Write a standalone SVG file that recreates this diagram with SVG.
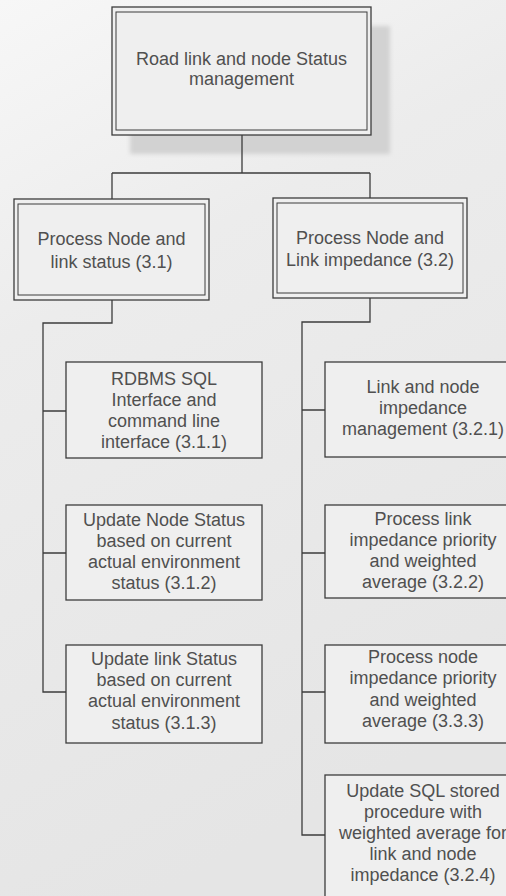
<svg xmlns="http://www.w3.org/2000/svg" width="506" height="896" viewBox="0 0 506 896">
  <defs>
    <linearGradient id="paper" x1="0" y1="0" x2="0.3" y2="1">
      <stop offset="0" stop-color="#f7f7f7"/>
      <stop offset="0.35" stop-color="#ececec"/>
      <stop offset="1" stop-color="#e5e5e5"/>
    </linearGradient>
    <filter id="soft" x="-10%" y="-10%" width="120%" height="120%">
      <feGaussianBlur stdDeviation="2"/>
    </filter>
    <style>
      .box { fill: #efefef; stroke: #3c3c3c; stroke-width: 1.3; }
      .inner { fill: none; stroke: #3c3c3c; stroke-width: 1; }
      .wire { fill: none; stroke: #3c3c3c; stroke-width: 1.3; }
      text { font-family: "Liberation Sans", Arial, sans-serif; font-size: 18px; fill: #505050; text-anchor: middle; }
    </style>
  </defs>

  <!-- paper background -->
  <rect x="0" y="0" width="506" height="896" fill="url(#paper)"/>

  <!-- drop shadow under the root box -->
  <rect x="130" y="26" width="260" height="128" fill="#d2d2d2" filter="url(#soft)"/>

  <!-- connectors -->
  <g id="connectors">
    <path class="wire" d="M242 135 V173 M112 173 H370 M112 173 V199 M370 173 V198"/>
    <path class="wire" d="M112 300 V323 H43 V692 H66 M43 411 H66 M43 553 H66"/>
    <path class="wire" d="M370 298 V322 H302 V835 H325 M302 410 H325 M302 553 H325 M302 692 H325"/>
  </g>

  <!-- root -->
  <g id="node-root">
    <rect class="box" x="112" y="7" width="259" height="128"/>
    <rect class="inner" x="116" y="12" width="251" height="118"/>
    <text x="241.5" y="65">Road link and node Status</text>
    <text x="241.5" y="85">management</text>
  </g>

  <!-- level 2 -->
  <g id="node-3-1">
    <rect class="box" x="14" y="199" width="195" height="101"/>
    <rect class="inner" x="18" y="204" width="187" height="91"/>
    <text x="111.5" y="245">Process Node and</text>
    <text x="111.5" y="268">link status (3.1)</text>
  </g>
  <g id="node-3-2">
    <rect class="box" x="273" y="198" width="194" height="100"/>
    <rect class="inner" x="277" y="203" width="186" height="90"/>
    <text x="370" y="244">Process Node and</text>
    <text x="370" y="266">Link impedance (3.2)</text>
  </g>

  <!-- level 3, branch 3.1 -->
  <g id="node-3-1-1">
    <rect class="box" x="66" y="362" width="196" height="96"/>
    <text x="164" y="385">RDBMS SQL</text>
    <text x="164" y="406">Interface and</text>
    <text x="164" y="427">command line</text>
    <text x="164" y="448">interface (3.1.1)</text>
  </g>
  <g id="node-3-1-2">
    <rect class="box" x="66" y="505" width="196" height="95"/>
    <text x="164" y="526">Update Node Status</text>
    <text x="164" y="547">based on current</text>
    <text x="164" y="568">actual environment</text>
    <text x="164" y="589">status (3.1.2)</text>
  </g>
  <g id="node-3-1-3">
    <rect class="box" x="66" y="645" width="196" height="98"/>
    <text x="164" y="665">Update link Status</text>
    <text x="164" y="686">based on current</text>
    <text x="164" y="707">actual environment</text>
    <text x="164" y="729">status (3.1.3)</text>
  </g>

  <!-- level 3, branch 3.2 -->
  <g id="node-3-2-1">
    <rect class="box" x="325" y="362" width="196" height="95"/>
    <text x="423" y="393">Link and node</text>
    <text x="423" y="414">impedance</text>
    <text x="423" y="435">management (3.2.1)</text>
  </g>
  <g id="node-3-2-2">
    <rect class="box" x="325" y="505" width="196" height="93"/>
    <text x="423" y="525">Process link</text>
    <text x="423" y="546">impedance priority</text>
    <text x="423" y="567">and weighted</text>
    <text x="423" y="588">average (3.2.2)</text>
  </g>
  <g id="node-3-2-3">
    <rect class="box" x="325" y="645" width="196" height="98"/>
    <text x="423" y="663">Process node</text>
    <text x="423" y="684">impedance priority</text>
    <text x="423" y="706">and weighted</text>
    <text x="423" y="727">average (3.3.3)</text>
  </g>
  <g id="node-3-2-4">
    <rect class="box" x="325" y="775" width="196" height="130"/>
    <text x="423" y="797">Update SQL stored</text>
    <text x="423" y="818">procedure with</text>
    <text x="423" y="839">weighted average for</text>
    <text x="423" y="860">link and node</text>
    <text x="423" y="881">impedance (3.2.4)</text>
  </g>
</svg>
